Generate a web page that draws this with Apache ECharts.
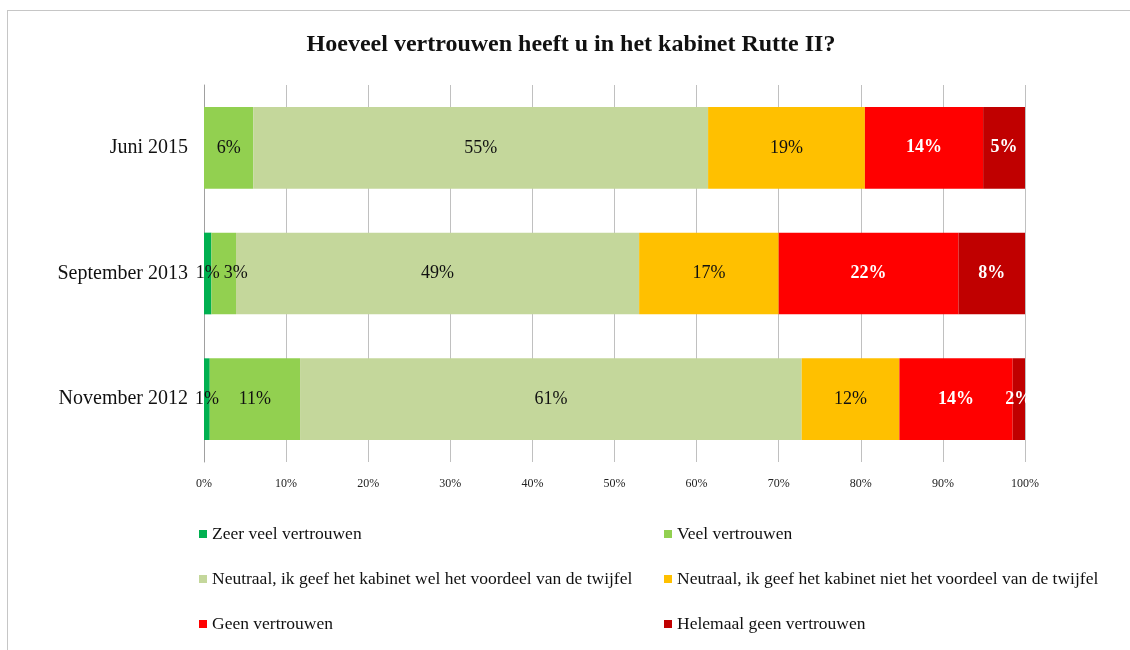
<!DOCTYPE html>
<html>
<head>
<meta charset="utf-8">
<title>Vertrouwen kabinet Rutte II</title>
<script src="https://cdn.jsdelivr.net/npm/echarts@6/dist/echarts.min.js"></script>
<style>
  html, body { margin: 0; padding: 0; background: #fff; overflow: hidden; }
  #frame { position: absolute; left: 7px; top: 10px; width: 1200px; height: 700px;
           border-left: 1px solid #c6c6c6; border-top: 1px solid #c6c6c6; }
  #main { position: absolute; left: 0; top: 0; width: 1130px; height: 650px; }
</style>
</head>
<body>
<div id="frame"></div>
<div id="main"></div>
<script>
// categories, bottom to top
var periods = ['November 2012', 'September 2013', 'Juni 2015'];

var seriesNames = [
  'Zeer veel vertrouwen',
  'Veel vertrouwen',
  'Neutraal, ik geef het kabinet wel het voordeel van de twijfel',
  'Neutraal, ik geef het kabinet niet het voordeel van de twijfel',
  'Geen vertrouwen',
  'Helemaal geen vertrouwen'
];

// percentages per period (Nov 2012, Sep 2013, Jun 2015)
var zeerVeel     = [0.7, 0.9, 0];
var veel         = [11.0, 3.0, 6.0];
var neutraalWel  = [61.1, 49.1, 55.4];
var neutraalNiet = [11.9, 17.0, 19.1];
var geen         = [13.8, 21.9, 14.4];
var helemaalGeen = [1.5, 8.1, 5.1];

var xTicks = ['0%', '10%', '20%', '30%', '40%', '50%', '60%', '70%', '80%', '90%', '100%'];

var colors = ['#00b050', '#92d050', '#c4d79b', '#ffc000', '#ff0000', '#c00000'];
var allData = [zeerVeel, veel, neutraalWel, neutraalNiet, geen, helemaalGeen];
var whiteLabel = [false, false, false, false, true, true];

var font = '"Liberation Serif", "DejaVu Serif", serif';

var series = seriesNames.map(function (name, i) {
  return {
    name: name,
    type: 'bar',
    stack: 'total',
    barCategoryGap: '35%',
    itemStyle: { color: colors[i] },
    label: {
      show: true,
      position: 'inside',
      fontFamily: font,
      fontSize: 18,
      fontWeight: whiteLabel[i] ? 'bold' : 'normal',
      color: whiteLabel[i] ? '#ffffff' : '#111111',
      formatter: function (p) {
        return p.value > 0 ? Math.round(p.value) + '%' : '';
      }
    },
    emphasis: { disabled: true },
    // narrow segments next to another narrow one get their label pushed right, as in Excel
    data: allData[i].map(function (v, j) {
      if (i === 1 && v < 5) return { value: v, label: { offset: [12, 0] } };
      return v;
    })
  };
});

var legendText = { fontFamily: font, fontSize: 17.5, color: '#111', lineHeight: 18 };

var chart = echarts.init(document.getElementById('main'));
chart.setOption({
  animation: false,
  color: colors,
  title: {
    text: 'Hoeveel vertrouwen heeft u in het kabinet Rutte II?',
    left: 566,
    top: 28,
    textAlign: 'center',
    textStyle: { fontFamily: font, fontSize: 24, fontWeight: 'bold', color: '#111' }
  },
  grid: { left: 204, right: 105, top: 85, height: 377 },
  xAxis: {
    type: 'value',
    min: 0,
    max: 100,
    interval: 10,
    axisLine: { show: false },
    axisTick: { show: false },
    splitLine: { lineStyle: { color: '#c0c0c0', width: 1 } },
    axisLabel: {
      margin: 16,
      fontFamily: font,
      fontSize: 12,
      color: '#222',
      formatter: function (v) { return xTicks[Math.round(v / 10)]; }
    }
  },
  yAxis: {
    type: 'category',
    data: periods,
    axisLine: { show: true, lineStyle: { color: '#a0a0a0' } },
    axisTick: { show: false },
    axisLabel: { margin: 16, fontFamily: font, fontSize: 20, color: '#111' }
  },
  legend: [
    {
      data: [seriesNames[0], seriesNames[2], seriesNames[4]],
      orient: 'vertical',
      left: 199,
      top: 525,
      padding: 0,
      itemWidth: 8,
      itemHeight: 8,
      itemGap: 27,
      icon: 'rect',
      textStyle: legendText
    },
    {
      data: [seriesNames[1], seriesNames[3], seriesNames[5]],
      orient: 'vertical',
      left: 664,
      top: 525,
      padding: 0,
      itemWidth: 8,
      itemHeight: 8,
      itemGap: 27,
      icon: 'rect',
      textStyle: legendText
    }
  ],
  series: series
});
</script>
</body>
</html>
